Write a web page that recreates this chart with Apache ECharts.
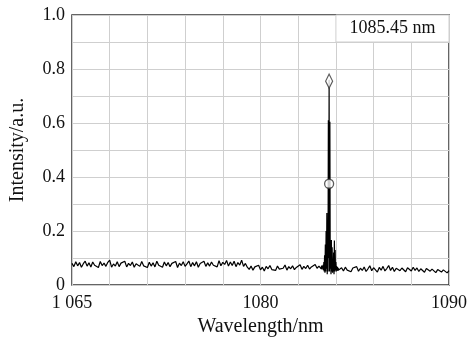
<!DOCTYPE html>
<html>
<head>
<meta charset="utf-8">
<script src="https://cdn.jsdelivr.net/npm/echarts@6/dist/echarts.min.js"></script>
<style>
html,body{margin:0;padding:0;background:#fff;}
#chart{width:476px;height:343px;}
</style>
</head>
<body>
<div id="chart"></div>
<script>
// x axis is drawn in grid-division units (10 divisions); labels as printed in the figure
var xTickLabels = {0: '1 065', 5: '1080', 10: '1090'};
var leftStart = 0, leftStep = 0.05;
var intensityLeft = [
  0.080,0.068,0.086,0.071,0.083,0.066,0.079,0.088,0.070,0.082,0.067,0.085,0.073,0.079,0.065,0.087,0.072,0.081,0.069,0.084,0.092,
  0.066,0.078,0.070,0.086,0.068,0.081,0.074,0.088,0.067,0.080,0.072,0.085,0.066,0.079,0.083,0.069,0.087,0.071,0.077,0.065,
  0.084,0.070,0.082,0.067,0.088,0.073,0.079,0.066,0.085,0.071,0.083,0.068,0.080,0.074,0.087,0.065,0.081,0.072,0.086,0.069,
  0.078,0.089,0.068,0.083,0.071,0.086,0.066,0.080,0.075,0.088,0.069,0.082,0.070,0.085,0.073,0.079,0.067,0.090,0.071,0.084,
  0.076,0.091,0.070,0.085,0.072,0.088,0.068,0.083,0.074,0.092,0.069,0.080,0.066,
  0.058,0.070,0.055,0.067,0.061,0.073,0.056,0.066,0.052,0.069,0.060,0.072,0.057,0.064,0.054,0.070,0.059,0.066,0.062,0.074,
  0.055,0.068,0.060,0.071,0.057,0.065,0.063,0.075,0.058,0.069,0.061,0.073,0.059,0.067,0.064,0.076,0.062,
  0.070
];
var peakStart = 6.6, peakStep = 0.01;
var intensityPeak = [
  0.068,0.060,0.072,0.058,0.070,0.062,0.075,0.055,0.085,0.050,
  0.110,0.045,0.150,0.050,0.200,0.060,0.267,0.040,0.120,0.050,
  0.610,0.100,0.760,0.050,0.605,0.060,0.120,0.040,0.167,0.050,
  0.140,0.045,0.090,0.050,0.120,0.040,0.165,0.050,0.130,0.055,
  0.085,0.050,0.070,0.058,0.066,0.052,0.064,0.055,0.062,0.056,
  0.060
];
var rightStart = 7.15, rightStep = 0.05;
var intensityRight = [
  0.064,0.052,0.066,0.055,0.061,0.049,0.063,0.056,0.068,0.051,
  0.062,0.054,0.067,0.050,0.060,0.071,0.053,0.064,0.057,0.048,
  0.065,0.055,0.069,0.052,0.061,0.072,0.054,0.066,0.050,0.062,
  0.067,0.053,0.063,0.056,0.049,0.064,0.058,0.052,0.066,0.054,
  0.063,0.050,0.060,0.058,0.047,0.061,0.055,0.051,0.059,0.053,
  0.046,0.057,0.052,0.048,0.056,0.050,0.045,0.053
];
var peakMarkerPos = 6.82;
var peakMarkerValues = [0.755, 0.375];
var peakMarkerSymbols = ['diamond', 'circle'];
var annotationText = '1085.45 nm';
var annotationRange = [[7, 0.9], [10, 1.0]];

var serif = "'Liberation Serif','DejaVu Serif',serif";
var chart = echarts.init(document.getElementById('chart'));
function toPairs(arr, start, step) { return arr.map(function (v, i) { return [start + i * step, v]; }); }
var lineData = toPairs(intensityLeft, leftStart, leftStep)
  .concat(toPairs(intensityPeak, peakStart, peakStep))
  .concat(toPairs(intensityRight, rightStart, rightStep));
var markerData = peakMarkerValues.map(function (v, i) {
  return { value: [peakMarkerPos, v], symbol: peakMarkerSymbols[i],
           symbolSize: peakMarkerSymbols[i] === 'diamond' ? [7, 14] : 9 };
});

chart.setOption({
  animation: false,
  backgroundColor: '#fff',
  grid: { left: 69, right: 27, top: 15, bottom: 58, show: true,
          borderColor: '#333', borderWidth: 1.5, backgroundColor: 'transparent' },
  xAxis: {
    type: 'value', min: 0, max: 10, interval: 1,
    name: 'Wavelength/nm', nameLocation: 'middle', nameGap: 32,
    nameTextStyle: { fontFamily: serif, fontSize: 20, color: '#111' },
    axisLine: { show: false },
    axisTick: { show: false },
    axisLabel: { fontFamily: serif, fontSize: 18, color: '#111', margin: 9,
      formatter: function (v) { var k = Math.round(v); return xTickLabels[k] !== undefined ? xTickLabels[k] : ''; } },
    splitLine: { show: true, lineStyle: { color: '#cfcfcf', width: 1 } }
  },
  yAxis: {
    type: 'value', min: 0, max: 1, interval: 0.1,
    name: 'Intensity/a.u.', nameLocation: 'middle', nameGap: 44,
    nameTextStyle: { fontFamily: serif, fontSize: 20, color: '#111' },
    axisLine: { show: false },
    axisTick: { show: false },
    axisLabel: { fontFamily: serif, fontSize: 18, color: '#111', margin: 7,
      formatter: function (v) { var k = Math.round(v * 10); if (k % 2) return ''; return k === 0 ? '0' : (k / 10).toFixed(1); } },
    splitLine: { show: true, lineStyle: { color: '#cfcfcf', width: 1 } }
  },
  series: [
    {
      type: 'line', data: lineData, showSymbol: false, symbol: 'none',
      lineStyle: { color: '#000', width: 1.2 },
      z: 3,
      markArea: {
        silent: true,
        itemStyle: { color: '#fff', borderColor: '#cfcfcf', borderWidth: 1 },
        label: { show: true, position: 'inside', formatter: annotationText,
                 fontFamily: serif, fontSize: 18, color: '#111' },
        data: [[{ coord: annotationRange[0] }, { coord: annotationRange[1] }]]
      }
    },
    {
      type: 'scatter', data: markerData, z: 4,
      itemStyle: { color: '#fff', borderColor: '#333', borderWidth: 1.3 }
    }
  ]
});
</script>
</body>
</html>
